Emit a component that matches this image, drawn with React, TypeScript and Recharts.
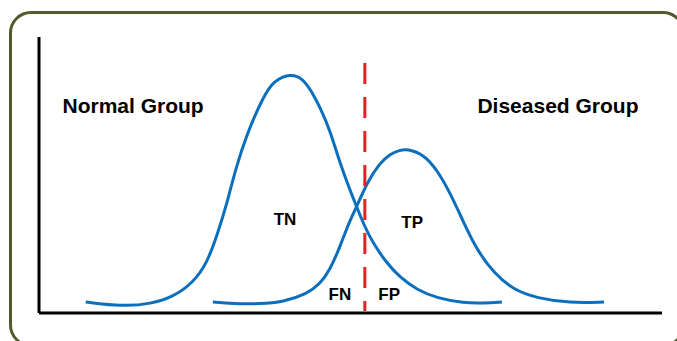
import { LineChart, Line, XAxis, YAxis, ReferenceLine, ReferenceDot } from 'recharts';

const normalX = [7.5, 9.8, 14.1, 17.8, 21.5, 24.7, 27.0, 28.7, 30.2, 31.5, 33.4, 36.0, 37.6, 40.3, 42.4, 43.9, 45.1, 46.7, 48.3, 49.9, 51.0, 52.3, 53.6, 55.8, 57.9, 60.7, 63.9, 68.2, 71.4, 74.3];
const normalY = [4.0, 3.3, 2.5, 3.3, 5.8, 10.9, 18.1, 29.0, 39.9, 51.8, 65.2, 78.3, 84.0, 86.8, 85.0, 79.7, 74.6, 66.3, 54.3, 44.6, 38.4, 31.2, 25.4, 18.1, 13.0, 8.3, 5.4, 3.6, 3.6, 4.0];

const diseasedX = [27.9, 31.1, 35.5, 39.2, 43.0, 45.1, 46.7, 48.3, 49.9, 51.0, 52.6, 54.7, 56.3, 57.9, 59.1, 61.8, 63.9, 66.0, 68.2, 70.3, 73.0, 76.2, 79.9, 85.2, 90.7];
const diseasedY = [4.0, 3.3, 3.3, 4.0, 6.9, 10.5, 15.6, 23.9, 33.7, 38.4, 47.1, 54.3, 57.6, 59.0, 59.5, 57.4, 51.8, 43.5, 32.6, 22.8, 14.5, 8.3, 5.4, 3.6, 4.0];

const cutoff = 52.3;
const cutoffRange = [90.6, 0.7];

const groupLabels = ['Normal Group', 'Diseased Group'];
const groupLabelX = [15.1, 83.3];
const groupLabelY = [75.0, 75.0];

const cellLabels = ['TN', 'TP', 'FN', 'FP'];
const cellLabelX = [39.5, 59.9, 48.3, 56.2];
const cellLabelY = [34.1, 33.0, 6.9, 6.9];

const normalData = normalX.map((x, i) => ({ x, y: normalY[i] }));
const diseasedData = diseasedX.map((x, i) => ({ x, y: diseasedY[i] }));

const BLUE = '#0b6fbd';
const FONT = '"Liberation Sans", Arial, sans-serif';

export default function App() {
  return (
    <div style={{ position: 'absolute', left: 0, top: 0, width: 677, height: 341, overflow: 'hidden', background: '#fff' }}>
      <div
        style={{
          position: 'absolute',
          left: 9,
          top: 11,
          width: 676,
          height: 336,
          boxSizing: 'border-box',
          border: '3px solid #535b2e',
          borderRadius: 22,
        }}
      />
      <LineChart
        width={677}
        height={341}
        margin={{ top: 37, right: 15, bottom: 27, left: 38 }}
        style={{ position: 'absolute', left: 0, top: 0 }}
      >
        <XAxis
          type="number"
          dataKey="x"
          domain={[0, 100]}
          allowDataOverflow
          height={1}
          tick={false}
          tickLine={false}
          axisLine={{ stroke: '#000', strokeWidth: 3 }}
        />
        <YAxis
          type="number"
          domain={[0, 100]}
          allowDataOverflow
          width={1}
          tick={false}
          tickLine={false}
          axisLine={{ stroke: '#000', strokeWidth: 3 }}
        />
        <Line
          data={normalData}
          dataKey="y"
          type="basis"
          stroke={BLUE}
          strokeWidth={3}
          dot={false}
          isAnimationActive={false}
        />
        <Line
          data={diseasedData}
          dataKey="y"
          type="basis"
          stroke={BLUE}
          strokeWidth={3}
          dot={false}
          isAnimationActive={false}
        />
        <ReferenceLine
          segment={[
            { x: cutoff, y: cutoffRange[0] },
            { x: cutoff, y: cutoffRange[1] },
          ]}
          stroke="#f21c22"
          strokeWidth={3}
          strokeDasharray="21 13"
        />
        {groupLabels.map((name, i) => (
          <ReferenceDot
            key={name}
            x={groupLabelX[i]}
            y={groupLabelY[i]}
            r={1}
            fill="none"
            stroke="none"
            label={{ value: name, position: 'center', fill: '#000', fontSize: 21, fontWeight: 'bold', fontFamily: FONT }}
          />
        ))}
        {cellLabels.map((name, i) => (
          <ReferenceDot
            key={name}
            x={cellLabelX[i]}
            y={cellLabelY[i]}
            r={1}
            fill="none"
            stroke="none"
            label={{ value: name, position: 'center', fill: '#000', fontSize: 17, fontWeight: 'bold', fontFamily: FONT }}
          />
        ))}
      </LineChart>
    </div>
  );
}
